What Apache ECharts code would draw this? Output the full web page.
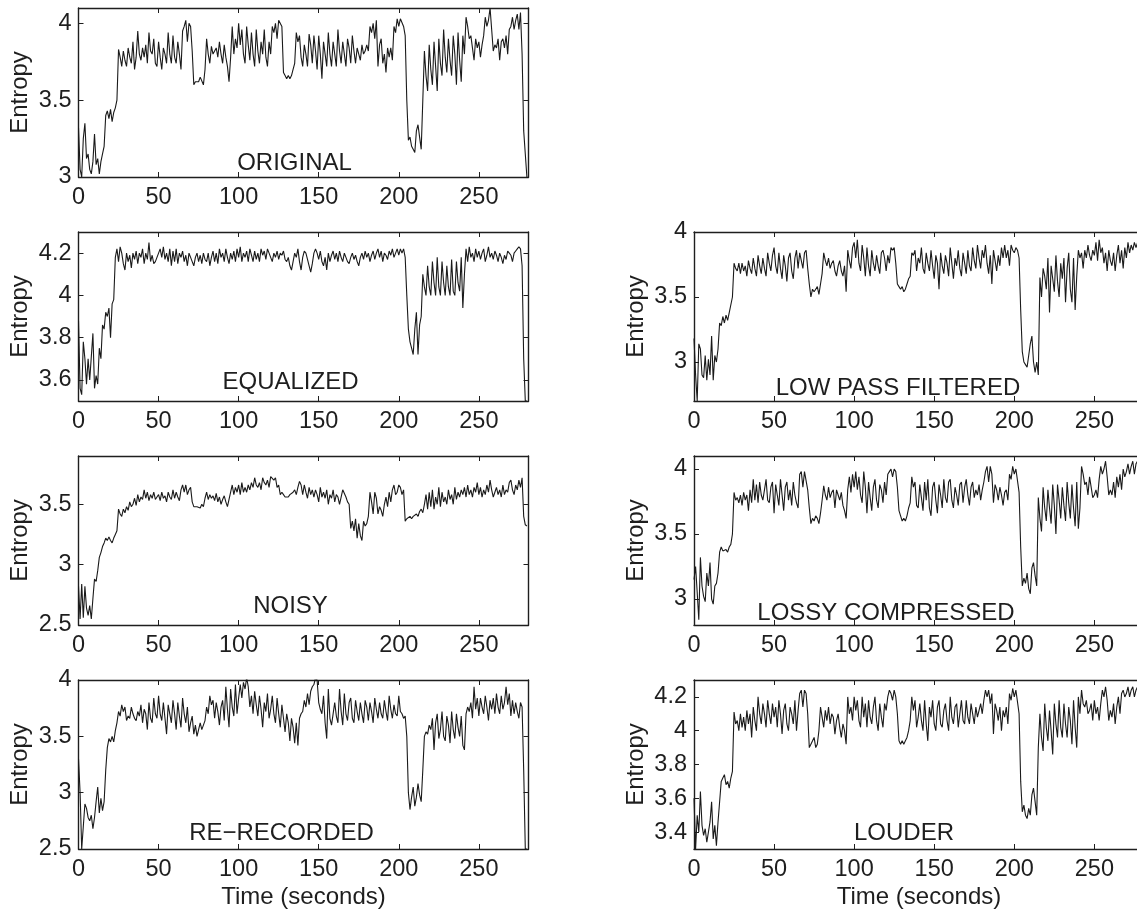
<!DOCTYPE html>
<html>
<head>
<meta charset="utf-8">
<script src="https://cdn.jsdelivr.net/npm/echarts@6/dist/echarts.min.js"></script>
<style>
  html, body { margin: 0; padding: 0; background: #ffffff; }
  #chart { width: 1137px; height: 913px; }
</style>
</head>
<body>
<div id="chart"></div>
<script>
// Entropy of one song per second, under several processing conditions.
// One value per second, starting at 0 s.
const T_START = 0;
const T_STEP = 1;

const original = [
  3.32, 3.05, 3.00, 3.25, 3.35, 3.12, 3.15, 3.05, 3.02, 3.10,
  3.28, 3.08, 3.12, 3.02, 3.10, 3.15, 3.20, 3.40, 3.43, 3.38,
  3.44, 3.36, 3.42, 3.45, 3.50, 3.83, 3.78, 3.72, 3.82, 3.76,
  3.72, 3.84, 3.78, 3.74, 3.88, 3.70, 3.78, 3.95, 3.80, 3.76,
  3.84, 3.78, 3.86, 3.74, 3.94, 3.82, 3.80, 3.90, 3.74, 3.72,
  3.88, 3.78, 3.70, 3.84, 3.80, 3.74, 3.94, 3.80, 3.74, 3.92,
  3.78, 3.74, 3.88, 3.80, 3.70, 3.95, 3.98, 4.02, 3.88, 4.00,
  3.98, 3.82, 3.60, 3.62, 3.63, 3.62, 3.65, 3.64, 3.60, 3.70,
  3.90, 3.80, 3.74, 3.85, 3.80, 3.82, 3.84, 3.78, 3.88, 3.80,
  3.74, 3.86, 3.78, 3.72, 3.62, 3.78, 3.98, 3.80, 3.90, 3.84,
  4.00, 3.86, 3.96, 3.80, 3.74, 3.98, 3.86, 3.76, 3.94, 3.80,
  3.72, 3.96, 3.82, 3.74, 3.88, 3.80, 3.96, 3.78, 3.72, 3.88,
  3.80, 3.98, 3.94, 4.00, 3.90, 4.02, 4.02, 3.98, 3.68, 3.66,
  3.64, 3.66, 3.64, 3.66, 3.70, 3.74, 3.94, 3.88, 3.92, 3.78,
  3.72, 3.86, 3.80, 3.72, 3.93, 3.86, 3.74, 3.92, 3.82, 3.70,
  3.92, 3.80, 3.64, 3.88, 3.80, 3.72, 3.94, 3.80, 3.72, 3.88,
  3.80, 3.72, 3.96, 3.82, 3.74, 3.88, 3.80, 3.72, 3.90, 3.84,
  3.74, 3.92, 3.82, 3.74, 3.84, 3.80, 3.76, 3.86, 3.80, 3.82,
  3.86, 3.82, 3.98, 3.94, 4.00, 3.90, 4.02, 3.72, 3.86, 3.90,
  3.74, 3.80, 3.68, 3.84, 3.78, 3.84, 3.76, 3.98, 3.94, 4.03,
  3.98, 4.03, 4.02, 3.98, 3.92, 3.50, 3.24, 3.26, 3.20, 3.18,
  3.16, 3.30, 3.34, 3.26, 3.18, 3.50, 3.82, 3.66, 3.56, 3.86,
  3.70, 3.60, 3.88, 3.72, 3.56, 3.90, 3.74, 3.66, 3.96, 3.78,
  3.68, 3.90, 3.76, 3.66, 3.92, 3.80, 3.60, 3.94, 3.76, 3.62,
  3.92, 3.80, 4.04, 3.98, 3.90, 3.92, 3.84, 3.76, 3.90, 3.84,
  3.88, 3.78, 3.86, 3.92, 4.04, 3.98, 4.02, 4.10, 3.96, 3.82,
  3.86, 3.84, 3.90, 3.76, 3.88, 3.90, 3.84, 3.92, 3.80, 3.96,
  3.98, 4.04, 3.96, 4.02, 4.06, 3.96, 4.07, 3.80, 3.30, 3.15,
  3.00
];

const equalized = [
  3.88, 3.56, 3.53, 3.78, 3.70, 3.58, 3.70, 3.60, 3.60, 3.82,
  3.56, 3.62, 3.58, 3.75, 3.70, 3.86, 3.84, 3.92, 3.90, 3.94,
  3.80, 3.96, 3.98, 4.18, 4.22, 4.16, 4.23, 4.20, 4.15, 4.12,
  4.20, 4.16, 4.19, 4.13, 4.20, 4.17, 4.21, 4.15, 4.20, 4.18,
  4.22, 4.15, 4.20, 4.17, 4.25, 4.16, 4.19, 4.15, 4.16, 4.18,
  4.20, 4.22, 4.18, 4.23, 4.17, 4.20, 4.16, 4.22, 4.14, 4.21,
  4.16, 4.22, 4.15, 4.20, 4.18, 4.21, 4.16, 4.19, 4.14, 4.20,
  4.18, 4.16, 4.14, 4.18, 4.20, 4.16, 4.19, 4.15, 4.20, 4.17,
  4.16, 4.20, 4.14, 4.18, 4.21, 4.16, 4.20, 4.15, 4.22, 4.18,
  4.20, 4.16, 4.22, 4.18, 4.15, 4.20, 4.17, 4.21, 4.16, 4.22,
  4.18, 4.23, 4.16, 4.20, 4.18, 4.21, 4.16, 4.22, 4.19, 4.16,
  4.21, 4.17, 4.20, 4.16, 4.22, 4.19, 4.21, 4.17, 4.22, 4.20,
  4.18, 4.16, 4.20, 4.18, 4.21, 4.17, 4.20, 4.19, 4.21, 4.17,
  4.16, 4.18, 4.14, 4.12, 4.16, 4.20, 4.18, 4.22, 4.16, 4.12,
  4.18, 4.21, 4.20, 4.17, 4.14, 4.11, 4.15, 4.20, 4.22, 4.20,
  4.17, 4.21, 4.16, 4.14, 4.18, 4.12, 4.20, 4.16, 4.19, 4.21,
  4.17, 4.20, 4.16, 4.21, 4.18, 4.16, 4.20, 4.18, 4.16, 4.15,
  4.18, 4.20, 4.17, 4.19, 4.16, 4.14, 4.18, 4.20, 4.17, 4.21,
  4.18, 4.20, 4.16, 4.19, 4.21, 4.17, 4.20, 4.22, 4.18, 4.21,
  4.16, 4.20, 4.19, 4.17, 4.21, 4.19, 4.22, 4.18, 4.20, 4.22,
  4.19, 4.22, 4.20, 4.22, 4.18, 4.00, 3.84, 3.78, 3.75, 3.72,
  3.84, 3.92, 3.72, 3.86, 3.90, 4.10, 4.04, 4.00, 4.14, 4.04,
  4.00, 4.16, 4.06, 4.00, 4.18, 4.04, 4.00, 4.16, 4.06, 4.00,
  4.14, 4.04, 4.00, 4.17, 4.02, 4.00, 4.16, 4.06, 4.02, 4.18,
  3.94, 4.10, 4.22, 4.16, 4.23, 4.18, 4.20, 4.16, 4.22, 4.18,
  4.21, 4.17, 4.20, 4.22, 4.16, 4.19, 4.23, 4.18, 4.20, 4.17,
  4.21, 4.19, 4.16, 4.20, 4.18, 4.15, 4.19, 4.17, 4.21, 4.20,
  4.19, 4.16, 4.20, 4.21, 4.22, 4.23, 4.22, 4.14, 3.70, 3.50,
  3.50
];

const noisy = [
  2.82, 2.55, 2.84, 2.56, 2.82, 2.64, 2.58, 2.66, 2.55, 2.72,
  2.88, 2.86, 2.95, 3.06, 3.10, 3.15, 3.18, 3.22, 3.20, 3.23,
  3.20, 3.18, 3.22, 3.25, 3.28, 3.46, 3.42, 3.40, 3.46, 3.43,
  3.48, 3.45, 3.52, 3.48, 3.50, 3.55, 3.49, 3.58, 3.52, 3.56,
  3.54, 3.62, 3.55, 3.60, 3.53, 3.58, 3.55, 3.60, 3.54, 3.56,
  3.58, 3.53, 3.60, 3.55, 3.57, 3.52, 3.60, 3.56, 3.54, 3.62,
  3.55, 3.60, 3.56, 3.53, 3.62, 3.66, 3.60, 3.66, 3.58, 3.62,
  3.64, 3.52, 3.48, 3.47, 3.48, 3.49, 3.47, 3.50, 3.48, 3.55,
  3.60, 3.54, 3.58, 3.55, 3.57, 3.53, 3.59, 3.52, 3.56, 3.50,
  3.54, 3.57, 3.52, 3.48, 3.54, 3.60, 3.66, 3.58, 3.64, 3.60,
  3.66, 3.58, 3.68, 3.60, 3.64, 3.60, 3.66, 3.62, 3.68, 3.64,
  3.72, 3.66, 3.64, 3.68, 3.62, 3.72, 3.68, 3.66, 3.70, 3.64,
  3.73, 3.74, 3.70, 3.72, 3.64, 3.66, 3.58, 3.60, 3.58, 3.56,
  3.55, 3.56, 3.58, 3.57, 3.60, 3.62, 3.58, 3.64, 3.69, 3.66,
  3.58, 3.66, 3.60, 3.55, 3.64, 3.58, 3.62, 3.56, 3.62, 3.58,
  3.52, 3.64, 3.56, 3.60, 3.55, 3.62, 3.50, 3.58, 3.55, 3.62,
  3.52, 3.58, 3.56, 3.50, 3.56, 3.62, 3.62, 3.56, 3.52, 3.50,
  3.30, 3.36, 3.28, 3.38, 3.22, 3.34, 3.24, 3.20, 3.36, 3.32,
  3.34, 3.40, 3.60, 3.52, 3.42, 3.60, 3.55, 3.42, 3.48, 3.45,
  3.40, 3.50, 3.56, 3.48, 3.60, 3.52, 3.62, 3.66, 3.58, 3.60,
  3.66, 3.64, 3.58, 3.62, 3.36, 3.38, 3.37, 3.40, 3.38, 3.40,
  3.39, 3.42, 3.40, 3.44, 3.46, 3.43, 3.50, 3.58, 3.46, 3.60,
  3.48, 3.62, 3.46, 3.56, 3.50, 3.64, 3.48, 3.60, 3.52, 3.56,
  3.50, 3.62, 3.54, 3.58, 3.50, 3.64, 3.54, 3.60, 3.56, 3.62,
  3.58, 3.64, 3.56, 3.66, 3.58, 3.62, 3.56, 3.64, 3.60, 3.68,
  3.58, 3.64, 3.56, 3.62, 3.58, 3.66, 3.60, 3.70, 3.62, 3.56,
  3.60, 3.64, 3.58, 3.62, 3.56, 3.66, 3.58, 3.62, 3.60, 3.68,
  3.70, 3.62, 3.58, 3.66, 3.62, 3.70, 3.64, 3.72, 3.40, 3.33,
  3.32
];

const reRecorded = [
  3.30, 3.00, 2.50, 2.70, 2.90, 2.86, 2.78, 2.75, 2.80, 2.68,
  2.78, 2.92, 3.05, 2.82, 2.95, 2.84, 2.92, 3.20, 3.40, 3.48,
  3.45, 3.50, 3.45, 3.55, 3.62, 3.72, 3.68, 3.78, 3.72, 3.76,
  3.64, 3.68, 3.66, 3.76, 3.70, 3.66, 3.64, 3.72, 3.68, 3.78,
  3.62, 3.74, 3.70, 3.56, 3.80, 3.66, 3.62, 3.84, 3.70, 3.66,
  3.86, 3.70, 3.64, 3.80, 3.66, 3.52, 3.78, 3.70, 3.62, 3.82,
  3.70, 3.56, 3.80, 3.68, 3.58, 3.84, 3.70, 3.62, 3.76, 3.54,
  3.62, 3.68, 3.52, 3.60, 3.50, 3.56, 3.62, 3.56, 3.60, 3.64,
  3.76, 3.70, 3.86, 3.78, 3.82, 3.66, 3.80, 3.72, 3.60, 3.76,
  3.82, 3.64, 3.94, 3.74, 3.58, 3.92, 3.76, 3.68, 3.96, 3.70,
  3.84, 3.96, 3.84, 3.98, 3.92, 4.02, 3.94, 3.76, 3.86, 3.70,
  3.90, 3.78, 3.68, 3.86, 3.74, 3.58, 3.80, 3.72, 3.88, 3.66,
  3.74, 3.86, 3.70, 3.62, 3.84, 3.70, 3.58, 3.78, 3.66, 3.54,
  3.70, 3.62, 3.46, 3.66, 3.58, 3.44, 3.62, 3.42, 3.66, 3.70,
  3.72, 3.82, 3.76, 3.88, 3.78, 3.90, 3.94, 3.96, 4.02, 4.00,
  3.80, 3.74, 3.70, 3.86, 3.62, 3.48, 3.92, 3.66, 3.60, 3.70,
  3.80, 3.68, 3.62, 3.92, 3.72, 3.60, 3.88, 3.70, 3.64, 3.80,
  3.84, 3.66, 3.62, 3.82, 3.72, 3.64, 3.80, 3.70, 3.62, 3.82,
  3.76, 3.64, 3.80, 3.72, 3.62, 3.84, 3.74, 3.66, 3.80, 3.70,
  3.66, 3.82, 3.72, 3.64, 3.86, 3.74, 3.66, 3.78, 3.70, 3.68,
  3.86, 3.72, 3.70, 3.66, 3.68, 3.50, 3.00, 2.85, 2.96, 3.05,
  2.88, 2.96, 3.08, 2.98, 2.92, 3.20, 3.50, 3.54, 3.52, 3.60,
  3.56, 3.66, 3.38, 3.62, 3.70, 3.48, 3.56, 3.72, 3.50, 3.46,
  3.68, 3.60, 3.44, 3.72, 3.56, 3.48, 3.70, 3.58, 3.50, 3.68,
  3.42, 3.38, 3.70, 3.76, 3.72, 3.80, 3.66, 3.94, 3.74, 3.84,
  3.68, 3.84, 3.76, 3.70, 3.86, 3.76, 3.64, 3.82, 3.74, 3.84,
  3.70, 3.88, 3.76, 3.70, 3.86, 3.74, 3.80, 3.94, 3.78, 3.88,
  3.68, 3.82, 3.70, 3.80, 3.72, 3.66, 3.80, 3.76, 3.20, 2.50,
  2.50
];

const lowPass = [
  3.18, 2.90, 2.70, 3.14, 3.10, 2.90, 2.88, 3.05, 2.86, 3.02,
  2.90, 3.20, 2.86, 3.05, 3.00, 3.10, 3.30, 3.28, 3.35, 3.30,
  3.36, 3.32, 3.38, 3.38, 3.50, 3.76, 3.72, 3.70, 3.76, 3.68,
  3.76, 3.70, 3.74, 3.66, 3.78, 3.72, 3.68, 3.80, 3.72, 3.66,
  3.82, 3.74, 3.68, 3.80, 3.72, 3.66, 3.84, 3.76, 3.70, 3.82,
  3.88, 3.74, 3.68, 3.84, 3.72, 3.64, 3.82, 3.74, 3.62, 3.80,
  3.84, 3.70, 3.64, 3.80, 3.86, 3.72, 3.84, 3.85, 3.72, 3.84,
  3.86, 3.72, 3.60, 3.50, 3.56, 3.54, 3.56, 3.58, 3.52, 3.60,
  3.68, 3.84, 3.78, 3.74, 3.80, 3.72, 3.76, 3.78, 3.70, 3.66,
  3.74, 3.78, 3.70, 3.66, 3.74, 3.54, 3.86, 3.78, 3.72, 3.88,
  3.92, 3.80, 3.94, 3.76, 3.70, 3.90, 3.80, 3.66, 3.88, 3.74,
  3.66, 3.86, 3.76, 3.70, 3.82, 3.74, 3.68, 3.84, 3.86, 3.80,
  3.70, 3.82, 3.76, 3.88, 3.86, 3.88, 3.76, 3.60, 3.58, 3.56,
  3.58, 3.54, 3.56, 3.60, 3.64, 3.66, 3.84, 3.82, 3.86, 3.70,
  3.80, 3.76, 3.88, 3.72, 3.68, 3.84, 3.76, 3.70, 3.86, 3.74,
  3.64, 3.82, 3.76, 3.56, 3.84, 3.74, 3.68, 3.82, 3.76, 3.66,
  3.88, 3.76, 3.64, 3.80, 3.74, 3.86, 3.72, 3.66, 3.84, 3.76,
  3.68, 3.86, 3.74, 3.70, 3.88, 3.78, 3.72, 3.90, 3.80, 3.72,
  3.86, 3.80, 3.90, 3.76, 3.68, 3.82, 3.60, 3.86, 3.78, 3.70,
  3.82, 3.74, 3.88, 3.80, 3.90, 3.80, 3.86, 3.74, 3.90, 3.86,
  3.84, 3.88, 3.86, 3.80, 3.40, 3.08, 3.00, 2.98, 2.96, 3.05,
  3.14, 3.20, 3.00, 2.92, 3.00, 2.90, 3.65, 3.50, 3.72, 3.66,
  3.56, 3.80, 3.38, 3.74, 3.64, 3.54, 3.82, 3.62, 3.50, 3.76,
  3.64, 3.80, 3.46, 3.72, 3.84, 3.56, 3.46, 3.80, 3.40, 3.66,
  3.86, 3.80, 3.84, 3.72, 3.86, 3.80, 3.90, 3.82, 3.78, 3.86,
  3.82, 3.92, 3.78, 3.94, 3.84, 3.88, 3.76, 3.84, 3.70, 3.86,
  3.78, 3.74, 3.84, 3.70, 3.82, 3.90, 3.76, 3.86, 3.72, 3.88,
  3.80, 3.92, 3.84, 3.90, 3.86, 3.92, 3.88, 3.92, 3.40, 3.00,
  2.90
];

const lossy = [
  3.15, 3.25, 3.05, 2.84, 3.32, 3.10, 3.02, 2.98, 3.20, 3.10,
  3.28, 3.00, 2.96, 3.10, 3.12, 3.20, 3.36, 3.40, 3.37, 3.36,
  3.38, 3.36, 3.40, 3.42, 3.50, 3.82, 3.76, 3.78, 3.74, 3.80,
  3.72, 3.82, 3.76, 3.80, 3.68, 3.84, 3.74, 3.92, 3.76, 3.88,
  3.74, 3.90, 3.80, 3.76, 3.84, 3.92, 3.76, 3.74, 3.86, 3.90,
  3.66, 3.88, 3.80, 3.72, 3.92, 3.80, 3.68, 3.86, 3.90, 3.76,
  3.84, 3.72, 3.90, 3.80, 3.74, 3.70, 3.96, 3.98, 3.86, 3.98,
  3.98, 3.84, 3.70, 3.58, 3.62, 3.60, 3.64, 3.62, 3.58, 3.66,
  3.76, 3.87, 3.80, 3.76, 3.86, 3.78, 3.82, 3.84, 3.70, 3.84,
  3.80, 3.76, 3.82, 3.72, 3.68, 3.62, 3.84, 3.94, 3.82, 3.96,
  3.86, 3.98, 3.84, 3.94, 3.80, 3.74, 3.98, 3.86, 3.66, 3.90,
  3.78, 3.68, 3.86, 3.92, 3.76, 3.70, 3.88, 3.84, 3.74, 3.90,
  3.80, 3.96, 3.98, 4.00, 3.94, 4.00, 3.98, 3.86, 3.68, 3.64,
  3.60, 3.62, 3.60, 3.64, 3.70, 3.74, 3.94, 3.86, 3.90, 3.72,
  3.70, 3.88, 3.78, 3.68, 3.90, 3.76, 3.92, 3.70, 3.64, 3.86,
  3.90, 3.76, 3.66, 3.88, 3.80, 3.70, 3.92, 3.78, 3.74, 3.90,
  3.92, 3.76, 3.70, 3.86, 3.80, 3.72, 3.88, 3.90, 3.74, 3.86,
  3.92, 3.80, 3.72, 3.86, 3.90, 3.78, 3.84, 3.80, 3.88, 3.76,
  3.84, 3.90, 3.98, 4.02, 3.90, 4.02, 3.96, 3.74, 3.88, 3.84,
  3.76, 3.86, 3.80, 3.72, 3.82, 3.84, 3.76, 3.96, 3.92, 4.02,
  3.96, 4.00, 4.00, 3.82, 3.40, 3.10, 3.16, 3.12, 3.20, 3.08,
  3.04, 3.24, 3.28, 3.18, 3.10, 3.78, 3.62, 3.52, 3.86, 3.70,
  3.60, 3.84, 3.70, 3.58, 3.88, 3.72, 3.50, 3.88, 3.76, 3.62,
  3.86, 3.72, 3.60, 3.90, 3.74, 3.62, 3.88, 3.70, 3.56, 3.90,
  3.54, 3.70, 4.02, 3.96, 3.88, 3.90, 3.80, 3.94, 3.86, 3.78,
  3.80, 3.84, 3.78, 3.92, 4.02, 3.96, 4.00, 4.06, 3.94, 3.80,
  3.84, 3.80, 3.90, 3.78, 3.94, 3.86, 3.96, 3.84, 4.00, 3.94,
  3.98, 4.04, 3.96, 4.02, 4.06, 3.96, 4.04, 4.06, 3.40, 3.10,
  3.00
];

const louder = [
  3.60, 3.30, 3.50, 3.40, 3.64, 3.44, 3.38, 3.42, 3.34, 3.40,
  3.46, 3.58, 3.36, 3.44, 3.32, 3.46, 3.58, 3.70, 3.72, 3.74,
  3.68, 3.70, 3.66, 3.72, 3.76, 4.11, 4.04, 4.06, 4.00, 4.10,
  4.02, 4.08, 4.00, 4.12, 4.04, 4.10, 3.96, 4.14, 4.06, 4.00,
  4.20, 4.10, 4.04, 4.16, 4.10, 4.02, 4.18, 4.10, 4.04, 4.16,
  4.08, 4.14, 4.02, 4.18, 4.10, 3.98, 4.12, 4.16, 4.04, 4.00,
  4.14, 4.10, 4.04, 4.18, 4.00, 4.12, 4.22, 4.24, 4.14, 4.24,
  4.22, 4.10, 3.90, 3.92, 3.92, 3.96, 3.90, 3.92, 4.00, 4.14,
  4.08, 4.02, 4.12, 4.06, 4.14, 4.04, 4.10, 4.08, 3.98, 4.06,
  4.10, 4.02, 3.96, 4.04, 4.00, 3.92, 4.20, 4.10, 4.14, 4.06,
  4.20, 4.12, 4.18, 4.06, 4.02, 4.20, 4.08, 4.16, 4.02, 4.18,
  4.08, 4.04, 4.14, 4.20, 4.06, 4.00, 4.16, 4.08, 4.02, 4.16,
  4.12, 4.20, 4.24, 4.22, 4.18, 4.24, 4.20, 4.10, 3.94, 3.92,
  3.94, 3.92, 3.94, 3.96, 4.00, 4.06, 4.20, 4.12, 4.18, 4.02,
  4.08, 4.16, 4.06, 4.00, 4.18, 4.04, 3.94, 4.14, 4.08, 4.18,
  4.04, 4.00, 4.14, 4.18, 4.04, 4.02, 4.12, 4.16, 4.06, 4.00,
  4.20, 4.08, 4.04, 4.14, 4.16, 4.02, 4.10, 4.18, 4.06, 4.04,
  4.18, 4.08, 4.04, 4.16, 4.10, 4.04, 4.14, 4.08, 4.12, 4.16,
  4.10, 4.18, 4.24, 4.20, 4.24, 4.16, 4.22, 3.98, 4.16, 4.12,
  4.06, 4.14, 4.00, 4.12, 4.08, 4.14, 4.04, 4.22, 4.18, 4.25,
  4.20, 4.24, 4.24, 4.10, 3.70, 3.52, 3.56, 3.50, 3.48, 3.54,
  3.50, 3.62, 3.66, 3.58, 3.50, 3.90, 4.10, 3.96, 3.88, 4.16,
  4.02, 3.94, 4.12, 4.00, 3.86, 4.16, 4.04, 3.96, 4.18, 4.02,
  3.96, 4.16, 4.04, 3.96, 4.14, 4.06, 3.92, 4.18, 4.02, 3.90,
  4.20, 4.10, 4.24, 4.16, 4.14, 4.18, 4.10, 4.12, 4.16, 4.06,
  4.18, 4.10, 4.14, 4.06, 4.16, 4.24, 4.20, 4.26, 4.18, 4.06,
  4.12, 4.08, 4.16, 4.04, 4.14, 4.20, 4.10, 4.22, 4.24, 4.20,
  4.22, 4.26, 4.20, 4.24, 4.26, 4.20, 4.24, 4.26, 3.60, 3.40,
  3.30
];

// Tick positions
const timeTicks = [0, 50, 100, 150, 200, 250];
const ticksOriginal = [3, 3.5, 4];
const ticksEqualized = [3.6, 3.8, 4, 4.2];
const ticksNoisy = [2.5, 3, 3.5];
const ticksReRecorded = [2.5, 3, 3.5, 4];
const ticksLowPass = [3, 3.5, 4];
const ticksLossy = [3, 3.5, 4];
const ticksLouder = [3.4, 3.6, 3.8, 4, 4.2];

// Axis ranges
const TIME_MAX = 281;
const rangeOriginal = [3, 4.1];
const rangeEqualized = [3.5, 4.3];
const rangeNoisy = [2.5, 3.9];
const rangeReRecorded = [2.5, 4];
const rangeLowPass = [2.7, 4];
const rangeLossy = [2.8, 4.1];
const rangeLouder = [3.3, 4.3];

// ---- layout ----
const FONT = '"Liberation Sans", Arial, Helvetica, sans-serif';
const TICK_SIZE = 23.5;
const TEXT_SIZE = 24;
const INK = '#1e1e1e';
const COL_LEFT = [78.5, 694];
const ROW_TOP = [8, 232, 456, 680];
const GRID_W = 450;
const GRID_H = 169;

const panels = [
  { title: 'ORIGINAL',          values: original,   range: rangeOriginal,   ticks: ticksOriginal,   col: 0, row: 0, tx: 216, ty: 155 },
  { title: 'EQUALIZED',         values: equalized,  range: rangeEqualized,  ticks: ticksEqualized,  col: 0, row: 1, tx: 212, ty: 150 },
  { title: 'NOISY',             values: noisy,      range: rangeNoisy,      ticks: ticksNoisy,      col: 0, row: 2, tx: 212, ty: 150 },
  { title: 'RE\u2212RECORDED',  values: reRecorded, range: rangeReRecorded, ticks: ticksReRecorded, col: 0, row: 3, tx: 203, ty: 153, time: true },
  { title: 'LOW PASS FILTERED', values: lowPass,    range: rangeLowPass,    ticks: ticksLowPass,    col: 1, row: 1, tx: 204, ty: 156 },
  { title: 'LOSSY COMPRESSED',  values: lossy,      range: rangeLossy,      ticks: ticksLossy,      col: 1, row: 2, tx: 192, ty: 157 },
  { title: 'LOUDER',            values: louder,     range: rangeLouder,     ticks: ticksLouder,     col: 1, row: 3, tx: 210, ty: 153, time: true }
];

const grid = [], xAxis = [], yAxis = [], series = [], graphic = [];
const axisLine = { show: true, onZero: false, lineStyle: { color: INK, width: 1.4 } };
const tickStyle = { color: INK, width: 1 };
const tickText = { color: INK, fontFamily: FONT, fontSize: TICK_SIZE };
const nameText = { color: INK, fontFamily: FONT, fontSize: TEXT_SIZE };

panels.forEach((p, i) => {
  const left = COL_LEFT[p.col];
  const top = ROW_TOP[p.row];
  grid.push({ left: left, top: top, width: GRID_W, height: GRID_H, outerBoundsMode: 'none', containLabel: false });

  // bottom time axis with labels, top axis carries the inner ticks of the box
  xAxis.push({
    type: 'value', gridIndex: i, position: 'bottom', min: 0, max: TIME_MAX,
    axisLine: axisLine,
    axisTick: { show: true, inside: true, length: 5, lineStyle: tickStyle, customValues: timeTicks },
    axisLabel: Object.assign({ show: true, margin: 9, customValues: timeTicks }, tickText),
    splitLine: { show: false },
    name: p.time ? 'Time (seconds)' : '', nameLocation: 'middle', nameGap: 36,
    nameTextStyle: nameText
  });
  xAxis.push({
    type: 'value', gridIndex: i, position: 'top', min: 0, max: TIME_MAX,
    axisLine: axisLine,
    axisTick: { show: true, inside: true, length: 5, lineStyle: tickStyle, customValues: timeTicks },
    axisLabel: { show: false },
    splitLine: { show: false }
  });

  yAxis.push({
    type: 'value', gridIndex: i, position: 'left', min: p.range[0], max: p.range[1],
    axisLine: axisLine,
    axisTick: { show: true, inside: true, length: 5, lineStyle: tickStyle, customValues: p.ticks },
    axisLabel: Object.assign({ show: true, margin: 7, customValues: p.ticks }, tickText),
    splitLine: { show: false },
    name: 'Entropy', nameLocation: 'middle', nameGap: 46, nameRotate: 90,
    nameTextStyle: nameText
  });
  yAxis.push({
    type: 'value', gridIndex: i, position: 'right', min: p.range[0], max: p.range[1],
    axisLine: axisLine,
    axisTick: { show: true, inside: true, length: 5, lineStyle: tickStyle, customValues: p.ticks },
    axisLabel: { show: false },
    splitLine: { show: false }
  });

  series.push({
    type: 'line', xAxisIndex: 2 * i, yAxisIndex: 2 * i,
    data: p.values.map((v, k) => [T_START + k * T_STEP, v]),
    showSymbol: false, symbol: 'none', clip: true,
    lineStyle: { color: '#1a1a1a', width: 1.1 },
    animation: false, silent: true
  });

  graphic.push({
    type: 'text', x: left + p.tx, y: top + p.ty, silent: true,
    style: {
      text: p.title, fill: INK, font: TEXT_SIZE + 'px ' + FONT,
      align: 'center', verticalAlign: 'middle',
      textAlign: 'center', textVerticalAlign: 'middle'
    }
  });
});

const chart = echarts.init(document.getElementById('chart'), null, { renderer: 'canvas' });
chart.setOption({
  backgroundColor: '#ffffff',
  animation: false,
  grid: grid,
  xAxis: xAxis,
  yAxis: yAxis,
  series: series,
  graphic: graphic
});
</script>
</body>
</html>
